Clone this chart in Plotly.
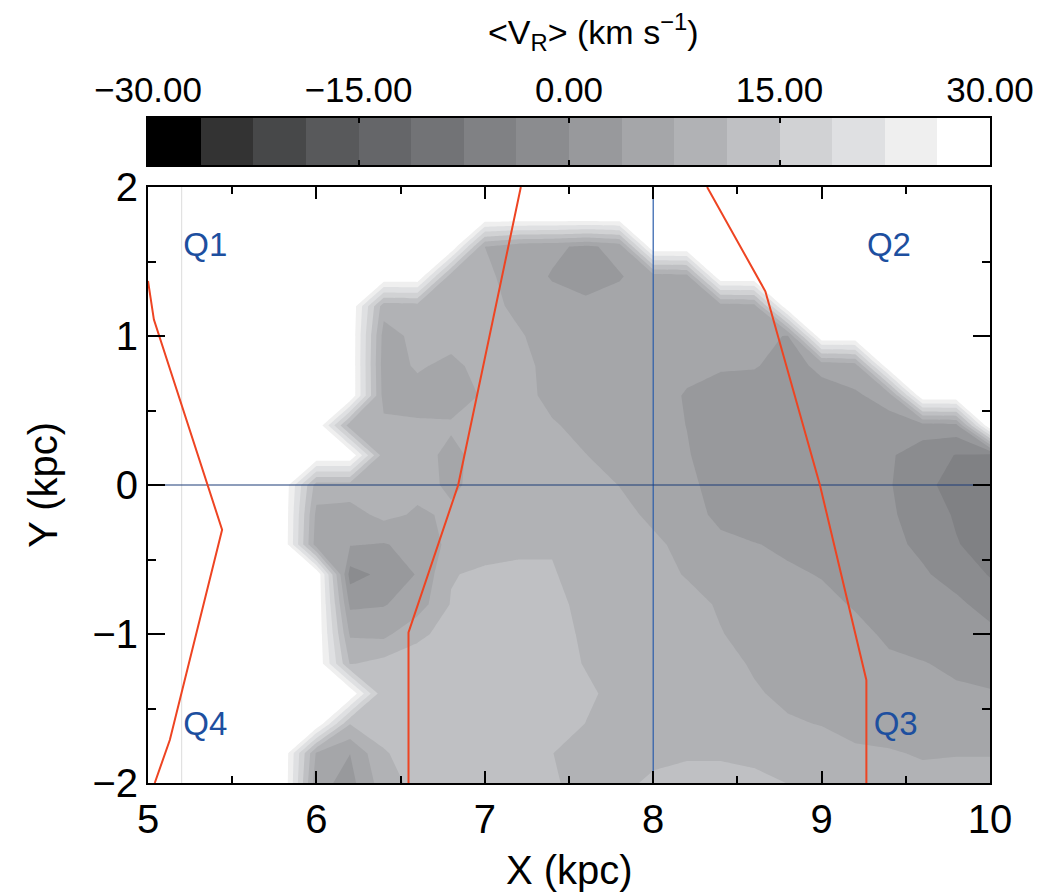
import plotly.graph_objects as go

# ---- mean radial velocity map on a 0.2 kpc grid (None = no stars in the bin) ----
x_kpc = [5.0, 5.2, 5.4, 5.6, 5.8, 6.0, 6.2, 6.4, 6.6, 6.8, 7.0, 7.2, 7.4,
         7.6, 7.8, 8.0, 8.2, 8.4, 8.6, 8.8, 9.0, 9.2, 9.4, 9.6, 9.8, 10.0]
y_kpc = [2.0, 1.8, 1.6, 1.4, 1.2, 1.0, 0.8, 0.6, 0.4, 0.2, 0.0,
         -0.2, -0.4, -0.6, -0.8, -1.0, -1.2, -1.4, -1.6, -1.8, -2.0]
N = None
vr_mean = [
    # y = 2.0
    [N, N, N, N, N, N, N, N, N, N, N, N, N, N, N, N, N, N, N, N, N, N, N, N, N, N],
    # y = 1.8
    [N, N, N, N, N, N, N, N, N, N, N, N, N, N, N, N, N, N, N, N, N, N, N, N, N, N],
    # y = 1.6
    [N, N, N, N, N, N, N, N, N, N, 7.5, 5, 4.5, 3, 5, N, N, N, N, N, N, N, N, N, N, N],
    # y = 1.4
    [N, N, N, N, N, N, N, N, N, 9, 8.5, 5.5, 3.5, 1.5, 3.5, 5.5, 6, N, N, N, N, N, N, N, N, N],
    # y = 1.2
    [N, N, N, N, N, N, N, 9, 9.5, 9.5, 9, 6.5, 5, 5, 5, 5, 5, 5.5, 6, N, N, N, N, N, N, N],
    # y = 1.0
    [N, N, N, N, N, N, N, 6, 8.5, 9, 9, 8, 5.5, 5, 5, 5, 5, 4.5, 4.5, 3.6, N, N, N, N, N, N],
    # y = 0.8
    [N, N, N, N, N, N, N, 5.5, 8, 6.5, 9, 9, 6, 5, 5, 5, 4.5, 4.2, 4, 2.5, 4.5, 5.5, N, N, N, N],
    # y = 0.6
    [N, N, N, N, N, N, N, 6, 6, 5.5, 8, 9.5, 6, 5, 5, 5, 3.5, 2, 2, 2, 2.5, 3.3, 5, N, N, N],
    # y = 0.4
    [N, N, N, N, N, N, 9, 8.5, 8, 8, 9, 9.5, 8, 6, 5, 5, 3.7, 2, 1.5, 1.5, 1.5, 1.5, 2.5, 2, 2.5, N],
    # y = 0.2
    [N, N, N, N, N, N, N, 9, 9, 6.5, 9, 10, 9.5, 7.6, 5.5, 5, 4, 2, 1.5, 1, 1, 1, 0.5, -2, -3.9, -5],
    # y = 0.0
    [N, N, N, N, N, 9.5, 9.5, 9, 8.5, 7, 8.5, 10, 10.5, 9.5, 7.4, 5.5, 4.5, 2.5, 1.5, 1, 1, 1, 0.3, -2.5, -5.5, -6],
    # y = -0.2
    [N, N, N, N, N, 6.5, 6, 8.5, 7, 8, 9, 10.5, 10.5, 10, 9, 6.5, 5, 3, 2, 1.5, 1, 1, 0.5, -1.5, -4.2, -6],
    # y = -0.4
    [N, N, N, N, N, 5.5, 4, 3.5, 5, 8.5, 9.5, 10.5, 11, 10.5, 9.5, 8.5, 6, 4.5, 3.9, 3.2, 2, 1.5, 1, -0.8, -3.5, -5.5],
    # y = -0.6
    [N, N, N, N, N, N, -1.5, 1, 4, 11, 12, 12, 11.5, 10, 9.5, 9, 7.2, 5.5, 4.5, 4.2, 3.6, 2, 1.5, 0.5, -1.5, -4],
    # y = -0.8
    [N, N, N, N, N, N, 3, 3.5, 5.5, 11.5, 13, 13, 12.5, 10, 9.5, 9.5, 9, 7, 5.5, 5, 4.5, 3.5, 2.5, 1.5, 0.8, -1.5],
    # y = -1.0
    [N, N, N, N, N, N, 7, 6.5, 10.5, 12.5, 13.5, 13.5, 13, 10.5, 9.5, 9.5, 9.5, 7.7, 6, 5.5, 5, 4.5, 3.3, 2.5, 2, 1],
    # y = -1.2
    [N, N, N, N, N, N, 11, 12.5, 13, 13, 13.5, 13.5, 13, 11, 10, 9.5, 9.5, 9, 7, 6, 5.5, 5, 4.2, 3.9, 3.2, 2.5],
    # y = -1.4
    [N, N, N, N, N, N, N, 11.8, 12, 12.5, 13, 13, 12.5, 12, 10, 9.5, 9.5, 9.5, 8, 6.5, 6, 5.5, 5, 4.5, 4.2, 4],
    # y = -1.6
    [N, N, N, N, N, N, 11.5, 12.5, 13, 13, 13.5, 13.5, 13, 11.2, 10, 10, 10, 9.5, 9, 8, 7.3, 6.5, 6, 5.5, 5.5, 5.5],
    # y = -1.8
    [N, N, N, N, N, 7, 3.8, 11, 12.5, 13, 13, 13, 11.3, 10, 10, 10.5, 10.8, 10.8, 10.5, 10, 9.5, 8, 7.8, 7.2, 7.3, 7.3],
    # y = -2.0
    [N, N, N, N, N, 5, 2.5, 9.5, 12.5, 13, 13, 13, 11.5, 10.5, 10.5, 11.8, 12.5, 12.5, 12, 11.2, 10, 9.5, 9, 8.5, 9, 9],
]

# colour levels: 16 bands of 3.75 km/s between -30 and 30
level_edges = [-30, -26.25, -22.5, -18.75, -15, -11.25, -7.5, -3.75, 0,
               3.75, 7.5, 11.25, 15, 18.75, 22.5, 26.25, 30]
band_colors = ['#000000', '#333333', '#474849', '#58595b', '#656669', '#727376',
               '#808184', '#8b8c8f', '#98999c', '#a5a6a9', '#b1b2b5', '#bfc0c3',
               '#d1d2d4', '#dfe0e2', '#efefef', '#ffffff']
cbar_ticks = [-30, -15, 0, 15, 30]

# spiral-arm loci
arm_a_x = [5.0, 5.035, 5.44, 5.13, 5.04]
arm_a_y = [1.37, 1.11, -0.30, -1.71, -2.0]
arm_b_x = [7.214, 6.842, 6.547, 6.547]
arm_b_y = [2.0, 0.0, -0.99, -2.0]
arm_c_x = [8.32, 8.666, 8.99, 9.266, 9.266]
arm_c_y = [2.0, 1.30, 0.0, -1.31, -2.0]

sun_x = 8.0
quad_labels = ['Q1', 'Q2', 'Q3', 'Q4']
quad_x = [5.34, 9.40, 9.44, 5.34]
quad_y = [1.59, 1.59, -1.62, -1.62]

# empty bins are pushed to the top of the scale so they render white
z_filled = [[30 if v is None else v for v in row] for row in vr_mean]
ys = y_kpc[::-1]
zs = z_filled[::-1]

n_bands = len(band_colors)
contour_scale = [[j / (n_bands - 1), c] for j, c in enumerate(band_colors)]

fig = go.Figure()
fig.add_trace(go.Contour(
    x=x_kpc, y=ys, z=zs,
    autocontour=False,
    contours=dict(start=level_edges[1], end=level_edges[-2], size=3.75,
                  coloring='fill', showlines=False),
    line=dict(width=0, smoothing=0),
    colorscale=contour_scale, showscale=False, hoverinfo='skip',
))

# faint reference line
fig.add_trace(go.Scatter(x=[5.2, 5.2], y=[-2, 2], mode='lines',
                         line=dict(color='#dcdcdc', width=1), hoverinfo='skip'))
# axes through the Sun
fig.add_trace(go.Scatter(x=[sun_x, sun_x], y=[-2, 2], mode='lines',
                         line=dict(color='#2a5caa', width=1.2), hoverinfo='skip'))
fig.add_trace(go.Scatter(x=[5, 10], y=[0, 0], mode='lines',
                         line=dict(color='#1c3c78', width=1.2), hoverinfo='skip'))

for ax_, ay_ in [(arm_a_x, arm_a_y), (arm_b_x, arm_b_y), (arm_c_x, arm_c_y)]:
    fig.add_trace(go.Scatter(x=ax_, y=ay_, mode='lines',
                             line=dict(color='#ee4422', width=2), hoverinfo='skip'))

fig.add_trace(go.Scatter(x=quad_x, y=quad_y, mode='text', text=quad_labels,
                         textfont=dict(family='Liberation Sans, Arial', size=33, color='#1d4f9f'),
                         textposition='middle center', hoverinfo='skip'))

# colour bar drawn as its own heatmap strip
band_mid = [(level_edges[i] + level_edges[i + 1]) / 2 for i in range(n_bands)]
bar_scale = []
for j, c in enumerate(band_colors):
    bar_scale.append([j / n_bands, c])
    bar_scale.append([(j + 1) / n_bands, c])
fig.add_trace(go.Heatmap(x=level_edges, y=[0, 1], z=[band_mid],
                         zmin=level_edges[0], zmax=level_edges[-1],
                         colorscale=bar_scale, showscale=False,
                         xaxis='x2', yaxis='y2', hoverinfo='skip'))

font_family = 'Liberation Sans, Arial, Helvetica, sans-serif'
axis_common = dict(showgrid=False, zeroline=False, showline=True, linecolor='black',
                   linewidth=2, mirror='ticks', ticks='inside', tickcolor='black',
                   tickwidth=1.5, tickfont=dict(family=font_family, size=40, color='black'))

fig.update_layout(
    width=1046, height=894,
    margin=dict(l=148, r=51, t=118, b=111),
    paper_bgcolor='white', plot_bgcolor='white',
    showlegend=False,
    font=dict(family=font_family, color='black'),
    xaxis=dict(domain=[0, 1], range=[5, 10], anchor='y', tickvals=[5, 6, 7, 8, 9, 10],
               ticklen=12,
               minor=dict(dtick=0.5, ticklen=7, ticks='inside', tickcolor='black', tickwidth=1.5),
               **axis_common),
    yaxis=dict(domain=[0, 0.8962], range=[-2, 2], anchor='x', tickvals=[-2, -1, 0, 1, 2],
               ticklen=17,
               minor=dict(dtick=0.5, ticklen=8, ticks='inside', tickcolor='black', tickwidth=1.5),
               **axis_common),
    xaxis2=dict(domain=[0, 1], range=[level_edges[0], level_edges[-1]], anchor='y2', side='top',
                tickvals=cbar_ticks,
                ticktext=[f'{v:.2f}'.replace('-', '\u2212') for v in cbar_ticks],
                showgrid=False, zeroline=False, showline=True, linecolor='black', linewidth=1.5,
                mirror='ticks', ticks='inside', ticklen=5, tickcolor='black', tickwidth=1.5,
                tickfont=dict(family=font_family, size=35, color='black')),
    yaxis2=dict(domain=[0.9293, 1.0], range=[0, 1], anchor='x2', showticklabels=False,
                showgrid=False, zeroline=False, showline=True, linecolor='black',
                linewidth=1.5, mirror=True, ticks=''),
    annotations=[
        dict(text='&lt;V<sub>R</sub>&gt; (km s<sup>\u22121</sup>)', x=0.529, y=1.13,
             xref='paper', yref='paper', showarrow=False, xanchor='center', yanchor='middle',
             font=dict(family=font_family, size=34, color='black')),
        dict(text='X (kpc)', x=0.5, y=-0.131, xref='paper', yref='paper', showarrow=False,
             xanchor='center', yanchor='middle',
             font=dict(family=font_family, size=40, color='black')),
        dict(text='Y (kpc)', x=-0.125, y=0.448, xref='paper', yref='paper', showarrow=False,
             xanchor='center', yanchor='middle', textangle=-90,
             font=dict(family=font_family, size=40, color='black')),
    ],
)

fig.write_html('out.html')
